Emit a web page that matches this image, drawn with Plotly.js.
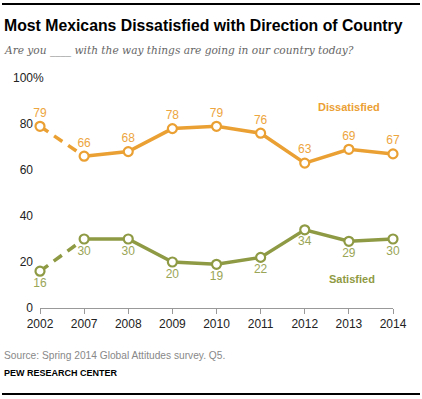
<!DOCTYPE html>
<html>
<head>
<meta charset="utf-8">
<script src="https://cdn.plot.ly/plotly-3.0.1.min.js"></script>
<style>html,body{margin:0;padding:0;background:#fff;}#chart{width:422px;height:399px;}</style>
</head>
<body>
<div id="chart"></div>
<script>
var years = ["2002","2007","2008","2009","2010","2011","2012","2013","2014"];
var dissatisfied = [79,66,68,78,79,76,63,69,67];
var satisfied = [16,30,30,20,19,22,34,29,30];
var yTickVals = [0,20,40,60,80,100];
var yTickText = ["0","20","40","60","80","100"];

var ORANGE = "#EBA033";
var GREEN = "#8F9A44";
var ORANGE_TXT = "#EDA540";
var GREEN_TXT = "#9AA556";

function seg(arr, a, b){ return arr.slice(a, b); }

var traces = [
  {x: seg(years,0,2), y: seg(dissatisfied,0,2), mode:"lines", line:{color:ORANGE,width:3.5,dash:"10px,7px"}, hoverinfo:"skip", cliponaxis:false},
  {x: seg(years,1), y: seg(dissatisfied,1), mode:"lines", line:{color:ORANGE,width:3.5}, hoverinfo:"skip", cliponaxis:false},
  {x: years, y: dissatisfied, mode:"markers+text", text: dissatisfied.map(String), textposition:"top center",
   textfont:{family:"Liberation Sans, Arial", size:12, color:ORANGE_TXT},
   marker:{size:9, color:"#fff", line:{color:ORANGE,width:2.2}}, cliponaxis:false},
  {x: seg(years,0,2), y: seg(satisfied,0,2), mode:"lines", line:{color:GREEN,width:3.5,dash:"10px,7px"}, hoverinfo:"skip", cliponaxis:false},
  {x: seg(years,1), y: seg(satisfied,1), mode:"lines", line:{color:GREEN,width:3.5}, hoverinfo:"skip", cliponaxis:false},
  {x: years, y: satisfied, mode:"markers+text", text: satisfied.map(String), textposition:"bottom center",
   textfont:{family:"Liberation Sans, Arial", size:12, color:GREEN_TXT},
   marker:{size:9, color:"#fff", line:{color:GREEN,width:2.2}}, cliponaxis:false}
];

var T = 78, B = 91, L = 40, R = 29, H = 399 - T - B, W = 422 - L - R;
function px(x){ return (x - L) / W; }
function py(y){ return (399 - B - y) / H; }

var layout = {
  width: 422, height: 399,
  margin: {l:L, r:R, t:T, b:B, pad:0},
  paper_bgcolor:"#fff", plot_bgcolor:"#fff",
  showlegend:false,
  font:{family:"Liberation Sans, Arial", size:12, color:"#222"},
  xaxis:{type:"category", range:[0, years.length-1], showgrid:false, zeroline:false,
         showline:true, linecolor:"#999", linewidth:1, ticks:"outside", ticklen:5, tickcolor:"#999",
         tickfont:{family:"Liberation Sans, Arial", size:12, color:"#222"}, fixedrange:true},
  yaxis:{range:[0,100], tickvals:yTickVals, ticktext:yTickText, showgrid:false, zeroline:false,
         showline:false, ticks:"", tickfont:{family:"Liberation Sans, Arial", size:12, color:"#222"},
         ticklabelstandoff:6, fixedrange:true},
  shapes:[
    {type:"line", xref:"paper", yref:"paper", x0:px(2), x1:px(420), y0:py(4), y1:py(4), line:{color:"#000", width:2}},
    {type:"line", xref:"paper", yref:"paper", x0:px(2), x1:px(420), y0:py(394), y1:py(394), line:{color:"#000", width:2}}
  ],
  annotations:[
    {xref:"paper", yref:"paper", x:px(2), y:py(25), xanchor:"left", yanchor:"middle", showarrow:false,
     text:"<b>Most Mexicans Dissatisfied with Direction of Country</b>",
     font:{family:"Liberation Sans, Arial", size:15.8, color:"#000"}},
    {xref:"paper", yref:"paper", x:px(2), y:py(50), xanchor:"left", yanchor:"middle", showarrow:false,
     text:"<i>Are you ____ with the way things are going in our country today?</i>",
     font:{family:"DejaVu Serif, Liberation Serif", size:10.6, color:"#666"}},
    {xref:"paper", yref:"y", x:px(31), y:100, xanchor:"left", yanchor:"middle", showarrow:false,
     text:"%", font:{family:"Liberation Sans, Arial", size:12, color:"#222"}},
    {xref:"x", yref:"y", x:7, y:87.4, xanchor:"center", yanchor:"middle", showarrow:false,
     text:"<b>Dissatisfied</b>", font:{family:"Liberation Sans, Arial", size:11, color:ORANGE}},
    {xref:"x", yref:"y", x:7.07, y:12.6, xanchor:"center", yanchor:"middle", showarrow:false,
     text:"<b>Satisfied</b>", font:{family:"Liberation Sans, Arial", size:11, color:GREEN}},
    {xref:"paper", yref:"paper", x:px(2), y:py(355), xanchor:"left", yanchor:"middle", showarrow:false,
     text:"Source: Spring 2014 Global Attitudes survey. Q5.",
     font:{family:"Liberation Sans, Arial", size:10.2, color:"#888"}},
    {xref:"paper", yref:"paper", x:px(2), y:py(373), xanchor:"left", yanchor:"middle", showarrow:false,
     text:"<b>PEW RESEARCH CENTER</b>",
     font:{family:"Liberation Sans, Arial", size:9, color:"#000"}}
  ]
};

Plotly.newPlot("chart", traces, layout, {displayModeBar:false, staticPlot:true});
</script>
</body>
</html>
